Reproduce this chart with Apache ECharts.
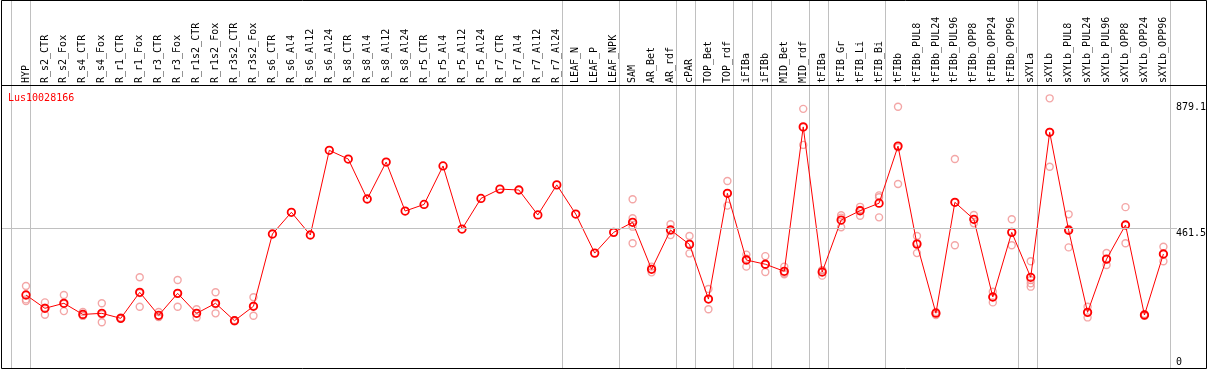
<!DOCTYPE html>
<html><head><meta charset="utf-8">
<script src="https://cdn.jsdelivr.net/npm/echarts@6/dist/echarts.min.js"></script>
<style>html,body{margin:0;padding:0;background:#fff}#c{width:1209px;height:370px}</style>
</head><body><div id="c"></div>
<script>
const geneName = 'Lus10028166';
const categories = ['HYP','R_s2_CTR','R_s2_Fox','R_s4_CTR','R_s4_Fox','R_r1_CTR','R_r1_Fox','R_r3_CTR','R_r3_Fox','R_r1s2_CTR','R_r1s2_Fox','R_r3s2_CTR','R_r3s2_Fox','R_s6_CTR','R_s6_Al4','R_s6_Al12','R_s6_Al24','R_s8_CTR','R_s8_Al4','R_s8_Al12','R_s8_Al24','R_r5_CTR','R_r5_Al4','R_r5_Al12','R_r5_Al24','R_r7_CTR','R_r7_Al4','R_r7_Al12','R_r7_Al24','LEAF_N','LEAF_P','LEAF_NPK','SAM','AR_Bet','AR_rdf','cPAR','TOP_Bet','TOP_rdf','iFIBa','iFIBb','MID_Bet','MID_rdf','tFIBa','tFIB_Gr','tFIB_Li','tFIB_Bi','tFIBb','tFIBb_PUL8','tFIBb_PUL24','tFIBb_PUL96','tFIBb_OPP8','tFIBb_OPP24','tFIBb_OPP96','sXYLa','sXYLb','sXYLb_PUL8','sXYLb_PUL24','sXYLb_PUL96','sXYLb_OPP8','sXYLb_OPP24','sXYLb_OPP96'];
const means = [239.6,195.3,212,175,178.6,162,248.5,172,245,178.6,212,154,202,442.6,514.8,439.3,721,692,559,682,519,541,669,459,561,592,589,506,606,509,379,448,481.5,325,456,408,226,578,356,342,318.5,799,316,489,520,545,735,409,179,548,491.5,233,448,298.5,781,455,182,359,472.5,173,376];
const replicates = [
  [269.5,225,219.6],[215,174,197],[239.6,186,210],[183,172,170],[212,148.7,175],[165,160,161],[298.5,200.7,246],[183,167,166],[289.5,200.7,245],[192,165,179],[248.5,178.6,209],[156,152,154],[232,170.7,203],
  [],[],[],[],[],[],[],[],[],[],[],[],[],[],[],[],
  [],[],[],
  [558,495,467,412],[334,315,326],[475,439,454],[436,378,410],[259.6,192,226],[619,537,578],[374,334,360],[369,316,341],[334,308.5,313],[859,739,798],[322,304,322],[505,465,497],[533,503.5,523],[571,498,565],
  [866,609,731],[436,379,413],[173,180,183],[692,405,547],[506,478,491],[250.6,215,233],[491.5,405,448],
  [351.7,289.5,278.5,267.3],[894,666.6,782],[508,398,459],[200.7,165,180],[379.4,339.4,359],[532,412,473],[176,170,173],[400,352,376]
];
const yTickLabels = [461.5, 879.1];
const yZeroLabel = [0];
const gridValue = 461.5;
const groupStarts = ['HYP','R_s2_CTR','LEAF_N','SAM','cPAR','TOP_Bet','iFIBa','iFIBb','MID_Bet','tFIBa','tFIB_Gr','tFIBb','sXYLa','sXYLb'];

const Y_MAX = 938.4;
const FONT = 'DejaVu Sans Mono';
const sepOffset = 14.5/19;
const repData = [];
replicates.forEach((r,i)=>r.forEach(v=>repData.push([categories[i], v])));
// overlay axis: category i sits at value i+1
const boundaryXs = groupStarts.map(n=>[categories.indexOf(n) + 1 - sepOffset, 0]);
boundaryXs.push([categories.length + 1 - sepOffset, 0]);

const chart = echarts.init(document.getElementById('c'), null, {renderer:'canvas'});
chart.setOption({
  backgroundColor:'#fff',
  animation:false,
  title:{text:geneName, left:8, top:93, padding:0, z:10, textStyle:{color:'#ff0000', fontFamily:FONT, fontSize:10, fontWeight:'normal'}},
  grid:[
    {left:16.5, right:33.5, top:85, bottom:3},
    {left:7, right:33.5, top:0, bottom:1},
    {left:1, right:32, top:85, bottom:3}
  ],
  xAxis:[
    {type:'category', gridIndex:0, data:categories, position:'top', boundaryGap:true,
     axisLine:{show:false}, axisTick:{show:false}, splitLine:{show:false},
     axisLabel:{rotate:90, interval:0, margin:2, fontFamily:FONT, fontSize:10, color:'#000'}},
    {type:'value', gridIndex:1, min:0, max:categories.length+0.5, show:false},
    {type:'value', gridIndex:2, min:0, max:1, show:false}
  ],
  yAxis:[
    {type:'value', gridIndex:0, position:'right', min:0, max:Y_MAX,
     axisLine:{show:false}, axisTick:{show:false}, splitLine:{show:false},
     axisLabel:{customValues:yTickLabels, verticalAlign:'top', margin:3, fontFamily:FONT, fontSize:10, color:'#000', showMinLabel:true, showMaxLabel:true}},
    {type:'value', gridIndex:0, position:'right', min:0, max:Y_MAX,
     axisLine:{show:false}, axisTick:{show:false}, splitLine:{show:false},
     axisLabel:{customValues:yZeroLabel, verticalAlign:'bottom', margin:3, fontFamily:FONT, fontSize:10, color:'#000'}},
    {type:'value', gridIndex:1, min:0, max:1, show:false},
    {type:'value', gridIndex:2, min:0, max:Y_MAX, show:false}
  ],
  series:[
    {type:'custom', xAxisIndex:1, yAxisIndex:2, data:boundaryXs, silent:true, z:1, clip:false,
     encode:{x:0, y:1},
     renderItem:function(params, api){
       const x = api.value(0);
       const p0 = api.coord([x, 0]);
       const p1 = api.coord([x, 1]);
       const px = Math.floor(p0[0]) + 0.5;
       return {type:'line', shape:{x1:px, y1:p0[1], x2:px, y2:p1[1]}, style:{stroke:'#c0c0c0', lineWidth:1}};
     }},
    {type:'line', xAxisIndex:2, yAxisIndex:3, data:[], silent:true, z:1,
     markLine:{silent:true, symbol:['none','none'], label:{show:false}, animation:false,
       lineStyle:{color:'#c0c0c0', width:1, type:'solid'}, data:[{yAxis:gridValue}]}},
    {type:'scatter', xAxisIndex:0, yAxisIndex:0, data:repData, symbol:'circle', symbolSize:7, z:3,
     itemStyle:{color:'transparent', borderColor:'#f09090', borderWidth:1.4}},
    {type:'line', xAxisIndex:0, yAxisIndex:0, data:means, symbol:'circle', symbolSize:7.5, showAllSymbol:true, z:4,
     lineStyle:{color:'#ff0000', width:1},
     itemStyle:{color:'transparent', borderColor:'#ff0000', borderWidth:1.8}}
  ],
  graphic:[
    {type:'rect', z:100, silent:true, shape:{x:1.5, y:0.5, width:1205, height:368}, style:{fill:'none', stroke:'#000', lineWidth:1}},
    {type:'line', z:100, silent:true, shape:{x1:1, y1:85.5, x2:1207, y2:85.5}, style:{stroke:'#000', lineWidth:1}}
  ]
});
</script></body></html>
